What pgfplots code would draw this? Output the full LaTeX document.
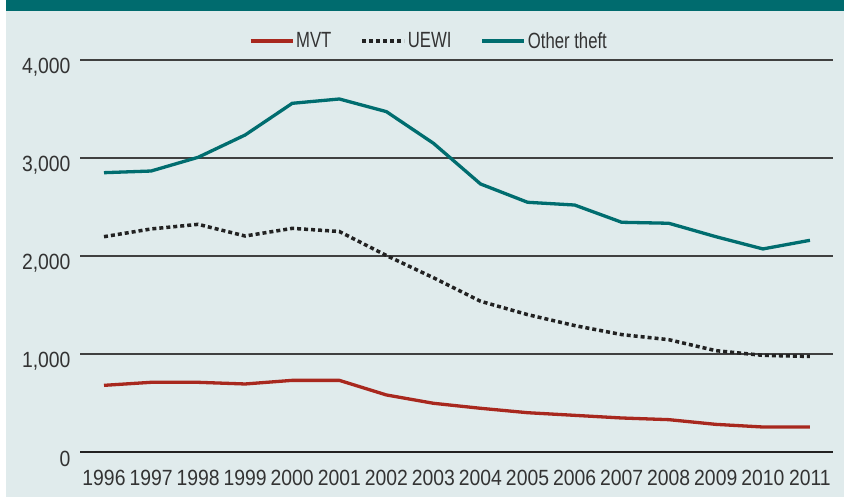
\documentclass[border=0pt]{standalone}
\usepackage{pgfplots}
\pgfplotsset{compat=1.18}
\usepackage{fontspec}
\setmainfont[FakeStretch=0.76]{Liberation Sans}
\newfontfamily\tickfont[FakeStretch=0.88]{Liberation Sans}
\definecolor{bg}{HTML}{E0EBEC}
\definecolor{hdr}{HTML}{006B6E}
\definecolor{mvt}{HTML}{A8281E}
\definecolor{oth}{HTML}{006D6F}
\definecolor{uewi}{HTML}{222222}
\definecolor{txt}{HTML}{333333}
\begin{document}
\begin{tikzpicture}[x=1bp,y=1bp]
\useasboundingbox (0,0) rectangle (844,497);
\fill[white] (0,0) rectangle (844,497);
\fill[bg] (6,0) rectangle (844,497);
\fill[hdr] (6,486) rectangle (844,497);
\begin{axis}[
  scale only axis,
  width=753bp, height=392bp,
  at={(80bp,45bp)}, anchor=south west,
  xmin=1995.49, xmax=2011.49,
  ymin=0, ymax=4000,
  clip=false,
  axis line style={draw=none},
  major tick length=0,
  xtick={1996,...,2011},
  ytick={1000,2000,3000,4000},
  extra y ticks={0},
  extra y tick style={grid style={line width=2.2bp, color=uewi}},
  ymajorgrids,
  grid style={line width=1.2bp, color=black!75},
  scaled y ticks=false,
  /pgf/number format/assume math mode=true,
  yticklabel style={font=\fontsize{22bp}{24bp}\tickfont, text=txt, /pgf/number format/1000 sep={,}, yshift=-7bp, xshift=-6bp},
  xticklabel style={font=\fontsize{22bp}{24bp}\tickfont, text=txt, /pgf/number format/1000 sep={}, yshift=-15bp},
  legend style={at={(0.220,1.0485)}, anchor=west, draw=none, fill=none,
    font=\fontsize{22bp}{24bp}\selectfont, text=txt,
    /tikz/every even column/.append style={column sep=27bp}},
  legend columns=3,
  legend image code/.code={\draw[#1] (0bp,0bp) -- (42bp,0bp);},
]
\addplot[mvt, line width=3.3bp] coordinates {
(1996,680) (1997,711) (1998,711) (1999,694) (2000,731) (2001,731) (2002,582) (2003,497)
(2004,446) (2005,401) (2006,374) (2007,347) (2008,330) (2009,282) (2010,255) (2011,255)};
\addlegendentry{MVT}
\addplot[uewi, line width=3.5bp, dash pattern=on 4bp off 3bp] coordinates {
(1996,2197) (1997,2276) (1998,2323) (1999,2204) (2000,2282) (2001,2250) (2002,2005) (2003,1778)
(2004,1538) (2005,1402) (2006,1290) (2007,1198) (2008,1146) (2009,1034) (2010,986) (2011,975)};
\addlegendentry{UEWI}
\addplot[oth, line width=3.3bp] coordinates {
(1996,2850) (1997,2867) (1998,3007) (1999,3235) (2000,3558) (2001,3602) (2002,3473) (2003,3150)
(2004,2735) (2005,2548) (2006,2520) (2007,2344) (2008,2334) (2009,2197) (2010,2072) (2011,2160)};
\addlegendentry{Other theft}
\end{axis}
\end{tikzpicture}
\end{document}
